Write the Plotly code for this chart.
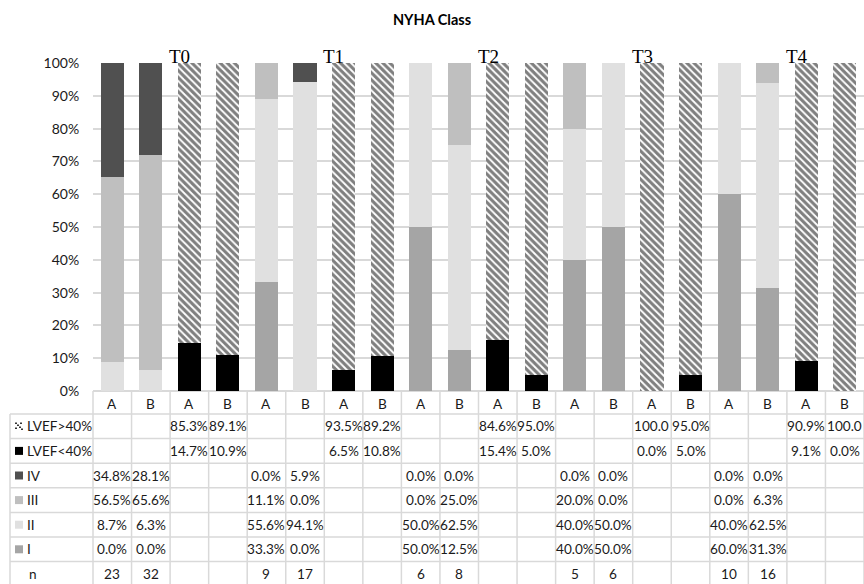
import plotly.graph_objects as go

# ---- data -------------------------------------------------------------
time_points = ["T0", "T1", "T2", "T3", "T4"]
groups = ["A", "B"]

nyha_I_A = [0.0, 33.3, 50.0, 40.0, 60.0]
nyha_I_B = [0.0, 0.0, 12.5, 50.0, 31.3]
nyha_II_A = [8.7, 55.6, 50.0, 40.0, 40.0]
nyha_II_B = [6.3, 94.1, 62.5, 50.0, 62.5]
nyha_III_A = [56.5, 11.1, 0.0, 20.0, 0.0]
nyha_III_B = [65.6, 0.0, 25.0, 0.0, 6.3]
nyha_IV_A = [34.8, 0.0, 0.0, 0.0, 0.0]
nyha_IV_B = [28.1, 5.9, 0.0, 0.0, 0.0]
lvef_low_A = [14.7, 6.5, 15.4, 0.0, 9.1]
lvef_low_B = [10.9, 10.8, 5.0, 5.0, 0.0]
lvef_high_A = [85.3, 93.5, 84.6, 100.0, 90.9]
lvef_high_B = [89.1, 89.2, 95.0, 95.0, 100.0]
n_A = [23, 9, 6, 5, 10]
n_B = [32, 17, 8, 6, 16]

# ---- layout constants (pixels) ---------------------------------------
WIDTH, HEIGHT = 864, 584
PL, PR, PT, PB = 93, 864, 63, 391          # plot-area edges
TABLE_LEFT = 10
CAT_ROW_BOTTOM = 414
ROW_H = 24.6
N_COLS = 4 * len(time_points)

FONT = "Lato"
TXT = "#1a1a1a"
GRID = "#d9d9d9"
TSIZE = 13.6

C_I, C_II, C_III, C_IV = "#a5a5a5", "#e0e0e0", "#bfbfbf", "#505050"


def fx(px):
    return (px - PL) / (PR - PL)


def fy(py):
    return (PB - py) / (PB - PT)


def col_x(c):
    """Paper x of column centre c."""
    return (c + 0.5) / N_COLS


def text_at(x, y, s, size=TSIZE, xanchor="center", family=FONT, color=TXT):
    return dict(x=x, y=y, xref="paper", yref="paper", text=s, showarrow=False,
                xanchor=xanchor, yanchor="middle",
                font=dict(family=family, size=size, color=color))


# x positions of each column kind
x_nyha_A = [4 * t for t in range(len(time_points))]
x_nyha_B = [4 * t + 1 for t in range(len(time_points))]
x_lvef_A = [4 * t + 2 for t in range(len(time_points))]
x_lvef_B = [4 * t + 3 for t in range(len(time_points))]

fig = go.Figure()

BW = 0.6


def add_bar(name, xs, ys, color, pattern=None):
    marker = dict(color=color, line=dict(width=0))
    if pattern:
        marker["pattern"] = pattern
    fig.add_trace(go.Bar(name=name, x=xs, y=ys, width=BW, marker=marker,
                         showlegend=False, hoverinfo="name+y"))


add_bar("I", x_nyha_A + x_nyha_B, nyha_I_A + nyha_I_B, C_I)
add_bar("II", x_nyha_A + x_nyha_B, nyha_II_A + nyha_II_B, C_II)
add_bar("III", x_nyha_A + x_nyha_B, nyha_III_A + nyha_III_B, C_III)
add_bar("IV", x_nyha_A + x_nyha_B, nyha_IV_A + nyha_IV_B, C_IV)
add_bar("LVEF<40%", x_lvef_A + x_lvef_B, lvef_low_A + lvef_low_B, "#000000")
add_bar("LVEF>40%", x_lvef_A + x_lvef_B, lvef_high_A + lvef_high_B, "#ffffff",
        pattern=dict(shape="\\", fgcolor="#000000", bgcolor="#ffffff",
                     size=5, solidity=0.62))

shapes = []
annotations = []

# ---- table grid -------------------------------------------------------
table_bottom = CAT_ROW_BOTTOM + 7 * ROW_H
for c in range(N_COLS + 1):
    shapes.append(dict(type="line", xref="paper", yref="paper",
                       x0=c / N_COLS, x1=c / N_COLS, y0=fy(PB), y1=fy(table_bottom),
                       line=dict(color=GRID, width=1.5)))
shapes.append(dict(type="line", xref="paper", yref="paper",
                   x0=fx(TABLE_LEFT), x1=fx(TABLE_LEFT),
                   y0=fy(CAT_ROW_BOTTOM), y1=fy(table_bottom),
                   line=dict(color=GRID, width=1.5)))
for r in range(8):
    yy = CAT_ROW_BOTTOM + r * ROW_H
    shapes.append(dict(type="line", xref="paper", yref="paper",
                       x0=fx(TABLE_LEFT), x1=1, y0=fy(yy), y1=fy(yy),
                       line=dict(color=GRID, width=1.5)))

# category row (A / B under every bar)
for c in range(N_COLS):
    annotations.append(text_at(col_x(c), fy((PB + CAT_ROW_BOTTOM) / 2 + 1), groups[c % 2]))


def fmt(v):
    s = f"{v:.1f}%"
    return s[:5]  # cell is too narrow for more than five characters


row_labels = ["LVEF>40%", "LVEF<40%", "IV", "III", "II", "I", "n"]
row_keys = [None, "#000000", C_IV, C_III, C_II, C_I, None]
row_values = [
    (lvef_high_A, lvef_high_B, "lvef"),
    (lvef_low_A, lvef_low_B, "lvef"),
    (nyha_IV_A, nyha_IV_B, "nyha"),
    (nyha_III_A, nyha_III_B, "nyha"),
    (nyha_II_A, nyha_II_B, "nyha"),
    (nyha_I_A, nyha_I_B, "nyha"),
    (n_A, n_B, "n"),
]

for r, (label, key, (va, vb, kind)) in enumerate(zip(row_labels, row_keys, row_values)):
    yc = CAT_ROW_BOTTOM + (r + 0.5) * ROW_H
    # legend key
    if key is not None:
        shapes.append(dict(type="rect", xref="paper", yref="paper",
                           x0=fx(15), x1=fx(23), y0=fy(yc - 4), y1=fy(yc + 4),
                           fillcolor=key, line=dict(width=0)))
    elif label.startswith("LVEF"):
        for dx, dy in [(16, -3), (18, -1), (20, 1), (22, 3), (16, 2), (21, -3)]:
            shapes.append(dict(type="rect", xref="paper", yref="paper",
                               x0=fx(dx - 0.8), x1=fx(dx + 0.8),
                               y0=fy(yc + dy - 0.8), y1=fy(yc + dy + 0.8),
                               fillcolor="#000000", line=dict(width=0)))
    lx = 25 if label != "n" else 27
    annotations.append(text_at(fx(lx), fy(yc), label, xanchor="left"))
    for t in range(len(time_points)):
        if kind == "lvef":
            cols = (4 * t + 2, 4 * t + 3)
            texts = (fmt(va[t]), fmt(vb[t]))
        elif kind == "nyha":
            cols = (4 * t, 4 * t + 1)
            texts = (fmt(va[t]), fmt(vb[t]))
        else:
            cols = (4 * t, 4 * t + 1)
            texts = (str(va[t]), str(vb[t]))
        for c, s in zip(cols, texts):
            annotations.append(text_at(col_x(c), fy(yc), s))

# time-point labels above each group
for t, name in enumerate(time_points):
    annotations.append(text_at((4 * t + 1.75 + 0.5) / N_COLS, fy(56), name, size=19,
                               family="Liberation Serif", color="#000000"))

fig.update_layout(
    width=WIDTH, height=HEIGHT,
    margin=dict(l=PL, r=WIDTH - PR, t=PT, b=HEIGHT - PB, pad=0),
    paper_bgcolor="#ffffff", plot_bgcolor="#ffffff",
    barmode="stack", bargap=0,
    title=dict(text="<b>NYHA Class</b>", x=0.5, xref="container", xanchor="center",
               y=1 - 20 / HEIGHT, yref="container", yanchor="middle",
               font=dict(family=FONT, size=14.5, color="#000000")),
    xaxis=dict(range=[-0.5, N_COLS - 0.5], showticklabels=False, showgrid=False,
               zeroline=False, showline=False, ticks="", fixedrange=True),
    yaxis=dict(range=[0, 100], dtick=10, ticksuffix="%", showgrid=True,
               gridcolor=GRID, gridwidth=1.5, zeroline=True, zerolinecolor=GRID,
               zerolinewidth=1.5, showline=False, ticks="outside", ticklen=10,
               tickcolor="rgba(0,0,0,0)",
               tickfont=dict(family=FONT, size=14, color=TXT)),
    shapes=shapes,
    annotations=annotations,
    font=dict(family=FONT),
)

fig.write_html("out.html")
